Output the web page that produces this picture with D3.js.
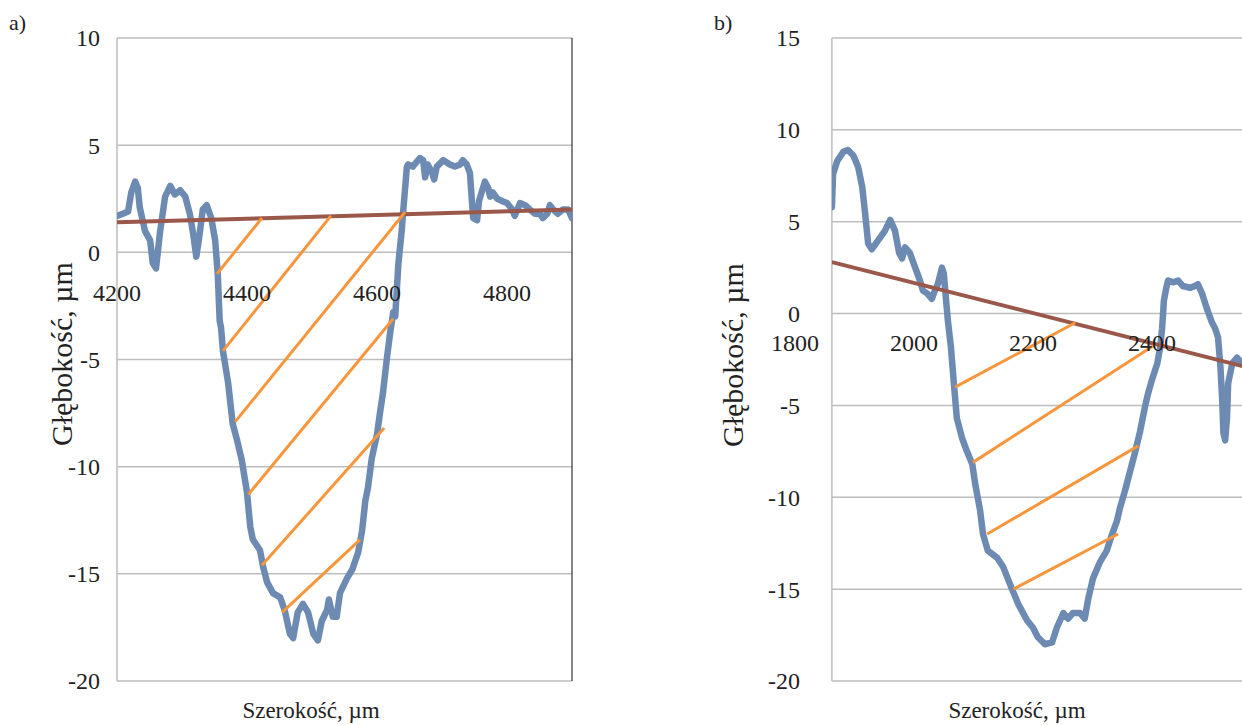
<!DOCTYPE html>
<html>
<head>
<meta charset="utf-8">
<script src="https://cdn.jsdelivr.net/npm/d3@7"></script>
<style>
  body { margin: 0; background: #fff; }
  svg { display: block; }
  text { font-family: "Liberation Serif", "Times New Roman", serif; fill: #222; }
</style>
</head>
<body>
<div id="chart"></div>
<script>
// ---- data ----
const profileA = [[4200,1.7],[4209,1.8],[4217,1.9],[4222,2.8],[4228,3.3],[4232,3.0],[4235,2.1],[4243,1.0],[4251,0.56],[4255,-0.5],[4260,-0.75],[4266,0.9],[4274,2.6],[4282,3.1],[4289,2.7],[4297,2.9],[4305,2.6],[4312,1.8],[4317,0.9],[4322,-0.2],[4326,0.6],[4332,2.0],[4338,2.2],[4345,1.6],[4351,0.56],[4355,-1.0],[4358,-3.2],[4360,-3.5],[4363,-4.6],[4371,-6.1],[4378,-8.0],[4385,-8.8],[4392,-9.7],[4400,-11.2],[4405,-12.8],[4409,-13.4],[4420,-13.9],[4425,-14.7],[4431,-15.4],[4440,-15.9],[4451,-16.1],[4458,-16.7],[4466,-17.8],[4471,-18.0],[4478,-16.8],[4486,-16.4],[4494,-16.8],[4502,-17.8],[4509,-18.1],[4515,-17.2],[4523,-16.7],[4526,-16.2],[4532,-17.0],[4538,-17.0],[4543,-15.9],[4554,-15.2],[4562,-14.8],[4571,-14.0],[4577,-13.0],[4582,-11.6],[4586,-11.0],[4592,-9.6],[4600,-8.5],[4605,-7.4],[4609,-6.6],[4615,-5.0],[4620,-3.8],[4625,-2.8],[4628,-3.0],[4633,-0.5],[4638,1.0],[4640,1.8],[4646,4.0],[4648,4.1],[4655,4.0],[4666,4.4],[4671,4.3],[4674,3.5],[4678,4.1],[4685,3.7],[4688,3.4],[4692,4.0],[4702,4.3],[4712,4.1],[4720,4.0],[4728,4.1],[4732,4.3],[4738,4.1],[4743,3.7],[4746,2.4],[4748,1.6],[4754,1.5],[4757,2.4],[4762,2.9],[4766,3.3],[4771,3.0],[4774,2.6],[4778,2.8],[4785,2.5],[4792,2.4],[4800,2.3],[4808,2.0],[4812,1.7],[4820,2.3],[4828,2.2],[4835,2.0],[4843,1.8],[4851,1.8],[4855,1.6],[4862,1.8],[4866,2.2],[4871,2.0],[4878,1.8],[4886,2.0],[4894,2.0],[4900,1.6]];
const baseA = [[4200,1.4],[4900,2.0]];
const hatchA = [[4354,-1.0,4423,1.6],[4363,-4.6,4529,1.7],[4382,-7.9,4643,1.87],[4402,-11.3,4625,-3.1],[4423,-14.6,4611,-8.2],[4454,-16.8,4574,-13.4]];
const xTicksA = [4200, 4400, 4600, 4800];
const yTicksA = [-20, -15, -10, -5, 0, 5, 10];

const profileB = [[1862,5.8],[1864,7.6],[1871,8.3],[1881,8.8],[1889,8.9],[1898,8.6],[1906,8.0],[1913,6.9],[1918,5.4],[1923,3.8],[1929,3.5],[1940,4.0],[1951,4.5],[1960,5.1],[1968,4.5],[1975,3.3],[1980,3.0],[1985,3.6],[1993,3.3],[2002,2.5],[2010,1.8],[2015,1.25],[2022,1.1],[2030,0.8],[2035,1.25],[2040,1.6],[2047,2.5],[2050,2.2],[2054,0.7],[2057,-0.4],[2062,-1.8],[2067,-3.8],[2072,-5.7],[2081,-6.8],[2089,-7.5],[2098,-8.2],[2103,-9.3],[2111,-10.7],[2116,-12.0],[2124,-12.9],[2140,-13.3],[2150,-13.8],[2161,-14.7],[2175,-15.8],[2190,-16.7],[2200,-17.1],[2208,-17.6],[2220,-18.0],[2232,-17.9],[2240,-17.1],[2251,-16.3],[2259,-16.6],[2267,-16.3],[2279,-16.3],[2287,-16.6],[2293,-15.5],[2301,-14.4],[2313,-13.5],[2324,-12.9],[2333,-12.0],[2341,-11.3],[2346,-10.6],[2355,-9.6],[2363,-8.6],[2372,-7.5],[2380,-6.4],[2388,-5.1],[2393,-4.4],[2400,-3.6],[2409,-2.7],[2414,-1.8],[2417,-0.8],[2420,0.7],[2424,1.4],[2427,1.8],[2436,1.7],[2444,1.8],[2452,1.5],[2464,1.4],[2472,1.5],[2477,1.6],[2484,1.1],[2493,0.2],[2501,-0.5],[2506,-0.8],[2511,-1.3],[2515,-2.9],[2518,-4.7],[2520,-6.5],[2523,-6.9],[2526,-5.7],[2528,-3.8],[2535,-2.7],[2543,-2.4],[2551,-2.7],[2565,-3.0]];
const baseB = [[1862,2.8],[2600,-3.25]];
const hatchB = [[2069,-4.0,2271,-0.5],[2099,-8.1,2405,-1.7],[2123,-12.0,2377,-7.2],[2167,-15.0,2343,-12.0]];
const xTicksB = [1800, 2000, 2200, 2400];
const yTicksB = [-20, -15, -10, -5, 0, 5, 10, 15];

const xTitle = "Szerokość, µm";
const yTitle = "Głębokość, µm";

// ---- drawing ----
let width = 1242, height = 725;

let svg = d3.select("#chart")
  .append("svg")
  .attr("width", width)
  .attr("height", height);

function drawPanel(p) {
  let x = d3.scaleLinear().domain(p.xDomain).range(p.xRange);
  let y = d3.scaleLinear().domain(p.yDomain).range([681, 38]);

  let left = x(p.frame[0]), right = x(p.frame[1]);
  let g = svg.append("g");

  g.append("clipPath").attr("id", p.id)
    .append("rect")
    .attr("x", left).attr("y", 30)
    .attr("width", right - left).attr("height", 660);

  // gridlines
  g.selectAll(".grid")
    .data(p.yTicks)
    .join("line")
    .attr("x1", left).attr("x2", right)
    .attr("y1", d => y(d)).attr("y2", d => y(d))
    .attr("stroke", "#bdbdbd")
    .attr("stroke-width", 1.5);

  g.append("line")
    .attr("x1", left).attr("x2", left)
    .attr("y1", y(p.yDomain[1])).attr("y2", y(p.yDomain[0]))
    .attr("stroke", "#bdbdbd").attr("stroke-width", 1.5);

  if (p.darkRight) {
    g.append("line")
      .attr("x1", right).attr("x2", right)
      .attr("y1", y(p.yDomain[1])).attr("y2", y(p.yDomain[0]))
      .attr("stroke", "#333").attr("stroke-width", 1.2);
  }

  // y tick labels
  g.selectAll(".ylab")
    .data(p.yTicks)
    .join("text")
    .attr("x", p.yLabelX)
    .attr("y", d => y(d))
    .attr("dy", "0.35em")
    .attr("text-anchor", "end")
    .attr("font-size", 24)
    .text(d => d);

  let line = d3.line().x(d => x(d[0])).y(d => y(d[1]));
  let plot = g.append("g").attr("clip-path", `url(#${p.id})`);

  plot.append("path")
    .attr("d", line(p.profile))
    .attr("fill", "none")
    .attr("stroke", "#6d8ab2")
    .attr("stroke-width", 6.5)
    .attr("stroke-linejoin", "round")
    .attr("stroke-linecap", "round");

  plot.append("path")
    .attr("d", line(p.base))
    .attr("fill", "none")
    .attr("stroke", "#9a584a")
    .attr("stroke-width", 4);

  plot.selectAll(".hatch")
    .data(p.hatch)
    .join("line")
    .attr("x1", d => x(d[0])).attr("y1", d => y(d[1]))
    .attr("x2", d => x(d[2])).attr("y2", d => y(d[3]))
    .attr("stroke", "#f7963c")
    .attr("stroke-width", 3);

  // x tick labels (sit below the zero line)
  g.selectAll(".xlab")
    .data(p.xTicks)
    .join("text")
    .attr("x", d => x(d))
    .attr("y", y(0) + p.xLabelDy)
    .attr("text-anchor", "middle")
    .attr("font-size", 24)
    .text(d => d);

  // titles
  g.append("text")
    .attr("x", p.xTitleX).attr("y", 718)
    .attr("text-anchor", "middle")
    .attr("font-size", 23)
    .text(xTitle);

  g.append("text")
    .attr("transform", `translate(${p.yTitleX},${p.yTitleY}) rotate(-90)`)
    .attr("text-anchor", "middle")
    .attr("font-size", 30)
    .text(yTitle);

  g.append("text")
    .attr("x", p.tagX).attr("y", 30)
    .attr("font-size", 22)
    .text(p.tag);
}

drawPanel({
  id: "clipA", tag: "a)", tagX: 9,
  profile: profileA, base: baseA, hatch: hatchA,
  xTicks: xTicksA, yTicks: yTicksA,
  xDomain: [4200, 4900], xRange: [117, 572], frame: [4200, 4900],
  yDomain: [-20, 10],
  yLabelX: 100, xLabelDy: 49, darkRight: true,
  xTitleX: 311, yTitleX: 72, yTitleY: 354
});

drawPanel({
  id: "clipB", tag: "b)", tagX: 714,
  profile: profileB, base: baseB, hatch: hatchB,
  xTicks: xTicksB, yTicks: yTicksB,
  xDomain: [1800, 2600], xRange: [795, 1271], frame: [1862, 2640],
  yDomain: [-20, 15],
  yLabelX: 800, xLabelDy: 37, darkRight: false,
  xTitleX: 1017, yTitleX: 743, yTitleY: 355
});
</script>
</body>
</html>
